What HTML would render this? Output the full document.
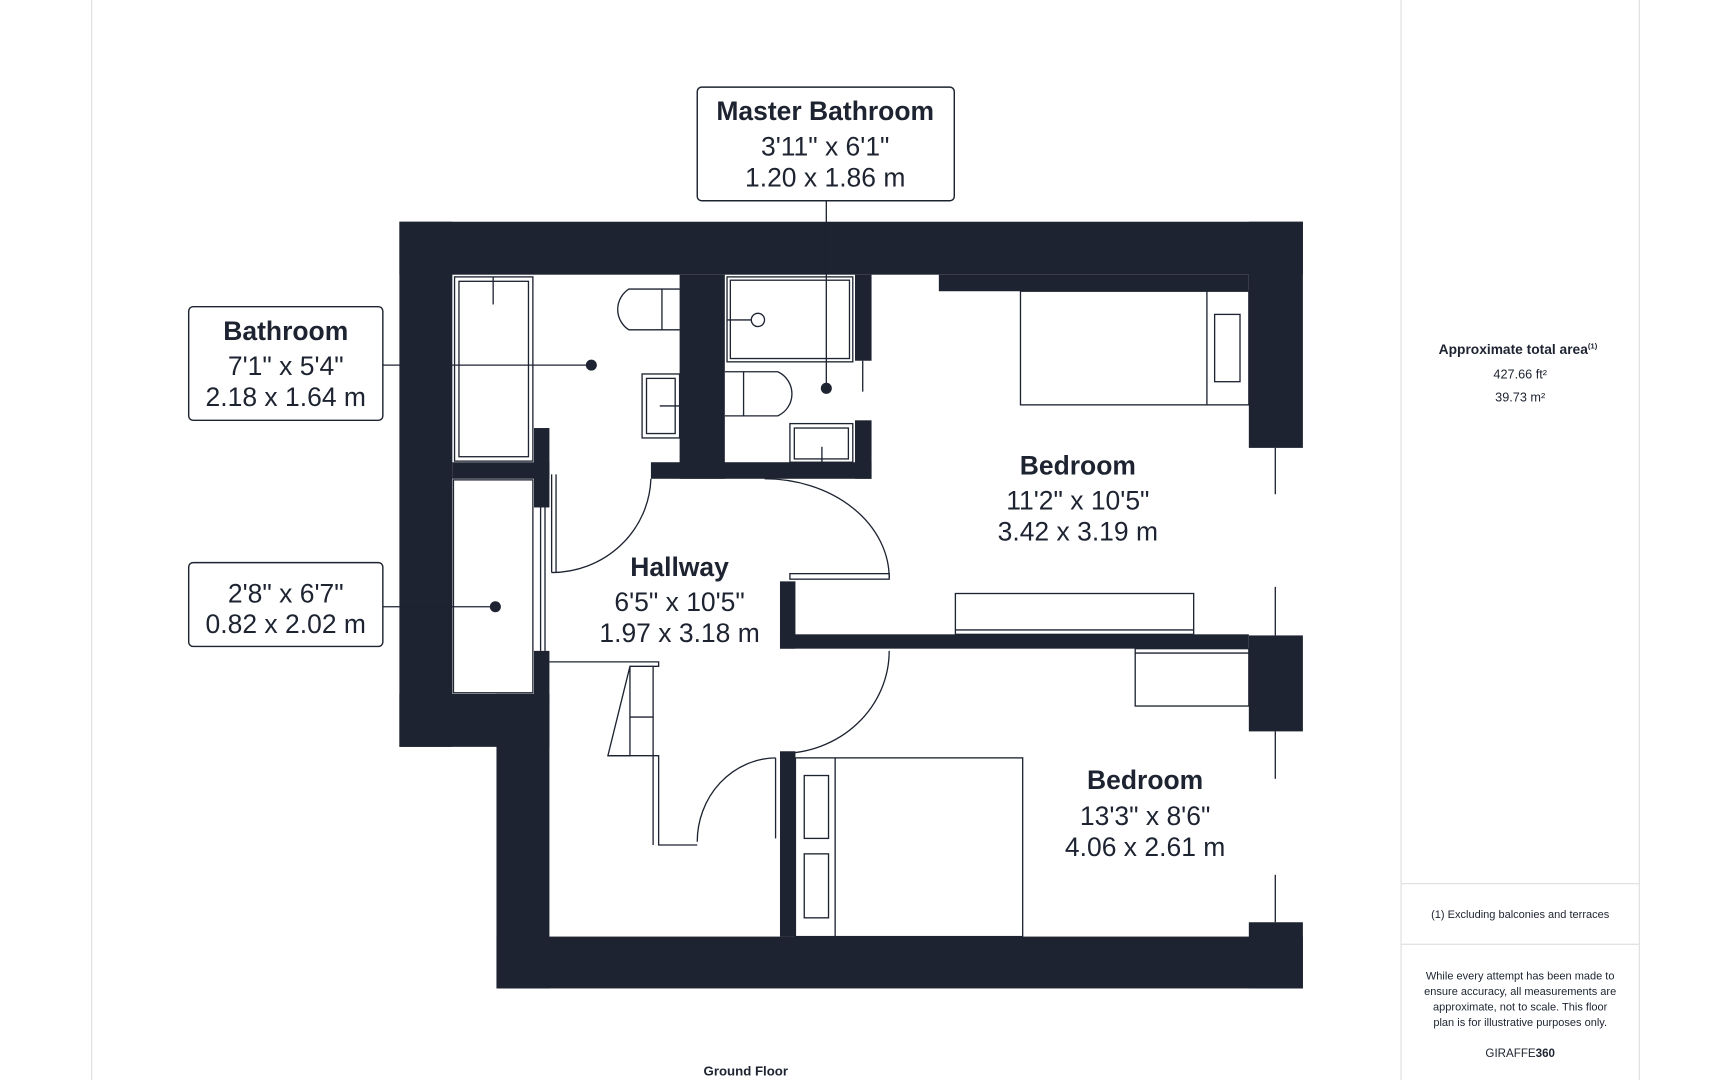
<!DOCTYPE html>
<html><head><meta charset="utf-8"><style>
html,body{margin:0;padding:0;background:#fff;width:1710px;height:1080px;overflow:hidden}
svg{display:block}
text{font-family:"Liberation Sans",sans-serif;fill:#1d2330}
</style></head><body>
<svg width="1710" height="1080" viewBox="0 0 1550 979" xmlns="http://www.w3.org/2000/svg">
<rect width="1550" height="979" fill="#fff"/>
<line x1="83" y1="0" x2="83" y2="979" stroke="#e2e2e2" stroke-width="1.2"/>
<line x1="1270" y1="0" x2="1270" y2="979" stroke="#e2e2e2" stroke-width="1.2"/>
<line x1="1486" y1="0" x2="1486" y2="979" stroke="#e2e2e2" stroke-width="1.2"/>
<line x1="1270" y1="801" x2="1486" y2="801" stroke="#e2e2e2" stroke-width="1.2"/>
<line x1="1270" y1="856" x2="1486" y2="856" stroke="#e2e2e2" stroke-width="1.2"/>

<g fill="#1d2330">
<rect x="362" y="201" width="819" height="48"/>
<rect x="851" y="249" width="281" height="15"/>
<rect x="1132" y="201" width="49" height="205"/>
<rect x="1132" y="576" width="49" height="87"/>
<rect x="1132" y="836" width="49" height="60"/>
<rect x="362" y="201" width="48" height="476"/>
<rect x="362" y="629" width="136" height="48"/>
<rect x="450" y="629" width="48" height="267"/>
<rect x="450" y="849" width="731" height="47"/>
<rect x="410" y="419" width="88" height="15"/>
<rect x="484" y="388" width="14" height="72"/>
<rect x="484" y="590" width="14" height="50"/>
<rect x="616" y="249" width="41" height="185"/>
<rect x="590" y="419" width="200" height="15"/>
<rect x="775" y="249" width="15" height="78"/>
<rect x="775" y="381" width="15" height="53"/>
<rect x="707" y="527" width="14" height="61"/>
<rect x="707" y="575" width="425" height="13"/>
<rect x="707" y="681" width="14" height="168"/>
</g>

<g fill="none" stroke="#1d2330" stroke-width="1.2">
<rect x="412" y="251" width="71" height="167"/>
<rect x="416" y="255" width="63" height="159"/>
<line x1="447" y1="251" x2="447" y2="276"/>
<path d="M616,262 H570 A22,22 0 0 0 570,299 H616"/>
<line x1="600" y1="262" x2="600" y2="299"/>
<rect x="582" y="339" width="34" height="58"/>
<rect x="586" y="343" width="26" height="50"/>
<line x1="598" y1="368" x2="616" y2="368"/>
<rect x="411" y="435" width="72" height="193"/>
<line x1="490" y1="434" x2="490" y2="590"/>
<line x1="494" y1="434" x2="494" y2="590"/>
<rect x="659" y="251" width="114" height="77"/>
<rect x="662" y="254" width="108" height="71"/>
<circle cx="687" cy="290" r="6"/>
<line x1="659" y1="290" x2="681" y2="290"/>
<path d="M657,337 H705 A22,22 0 0 1 705,377 H657"/>
<line x1="674" y1="337" x2="674" y2="377"/>
<rect x="716" y="384" width="57" height="35"/>
<rect x="720" y="388" width="49" height="28"/>
<line x1="745" y1="405" x2="745" y2="419"/>
<line x1="782" y1="327" x2="782" y2="355"/>
<rect x="925" y="264" width="207" height="103"/>
<line x1="1094" y1="264" x2="1094" y2="367"/>
<rect x="1101" y="285" width="23" height="61"/>
<rect x="866" y="538" width="216" height="37"/>
<line x1="866" y1="571" x2="1082" y2="571"/>
<rect x="1029" y="588" width="103" height="52"/>
<line x1="1029" y1="592" x2="1132" y2="592"/>
<rect x="721" y="687" width="206" height="162"/>
<line x1="757" y1="687" x2="757" y2="849"/>
<rect x="729" y="703" width="22" height="57"/>
<rect x="729" y="774" width="22" height="58"/>
<path d="M498,600 H597 V604 H571 V685 H551 L571,604"/>
<path d="M551,685 H597 V766 H632"/>
<line x1="592" y1="604" x2="592" y2="766"/>
<line x1="571" y1="650" x2="592" y2="650"/>
<line x1="500" y1="430" x2="500" y2="519"/>
<line x1="504" y1="430" x2="504" y2="519"/>
<path d="M590,434 A90,88 0 0 1 500,519"/>
<path d="M693,434 A113,90 0 0 1 806,524"/>
<rect x="716" y="520" width="90" height="5"/>
<path d="M806,590 A98,93 0 0 1 708,683"/>
<line x1="703" y1="687" x2="703" y2="760"/>
<path d="M703,687 A72,76 0 0 0 632,763"/>
<line x1="1156" y1="406" x2="1156" y2="448"/>
<line x1="1156" y1="532" x2="1156" y2="576"/>
<line x1="1156" y1="663" x2="1156" y2="706"/>
<line x1="1156" y1="793" x2="1156" y2="836"/>
</g>

<g stroke="#1d2330" stroke-width="1.2">
<line x1="749" y1="182" x2="749" y2="352"/>
<line x1="347" y1="331" x2="536" y2="331"/>
<line x1="347" y1="550" x2="449" y2="550"/>
</g>
<g fill="#1d2330">
<circle cx="749" cy="352" r="5"/>
<circle cx="536" cy="331" r="5"/>
<circle cx="449" cy="550" r="5"/>
</g>

<g fill="#fff" stroke="#1d2330" stroke-width="1.3">
<rect x="632" y="79" width="233" height="103" rx="4"/>
<rect x="171" y="278" width="176" height="103" rx="4"/>
<rect x="171" y="510" width="176" height="76" rx="4"/>
</g>
<g text-anchor="middle" font-size="24">
<text x="748" y="109" font-weight="bold">Master Bathroom</text>
<text x="748" y="141">3'11" x 6'1"</text>
<text x="748" y="169">1.20 x 1.86 m</text>
<text x="259" y="308" font-weight="bold">Bathroom</text>
<text x="259" y="340">7'1" x 5'4"</text>
<text x="259" y="368">2.18 x 1.64 m</text>
<text x="259" y="546">2'8" x 6'7"</text>
<text x="259" y="574">0.82 x 2.02 m</text>
<text x="977" y="430" font-weight="bold">Bedroom</text>
<text x="977" y="462">11'2" x 10'5"</text>
<text x="977" y="490">3.42 x 3.19 m</text>
<text x="616" y="522" font-weight="bold">Hallway</text>
<text x="616" y="554">6'5" x 10'5"</text>
<text x="616" y="582">1.97 x 3.18 m</text>
<text x="1038" y="715" font-weight="bold">Bedroom</text>
<text x="1038" y="748">13'3" x 8'6"</text>
<text x="1038" y="776">4.06 x 2.61 m</text>
</g>

<g text-anchor="middle">
<text x="1376" y="321" font-size="12.5" font-weight="bold">Approximate total area<tspan font-size="7" dy="-5">(1)</tspan></text>
<text x="1378" y="343" font-size="11.5" fill="#3a3f4a">427.66 ft²</text>
<text x="1378" y="364" font-size="11.5" fill="#3a3f4a">39.73 m²</text>
<text x="1378" y="832" font-size="10" fill="#3a3f4a">(1) Excluding balconies and terraces</text>
<text x="1378" y="888" font-size="10" fill="#3a3f4a">While every attempt has been made to</text>
<text x="1378" y="902" font-size="10" fill="#3a3f4a">ensure accuracy, all measurements are</text>
<text x="1378" y="916" font-size="10" fill="#3a3f4a">approximate, not to scale. This floor</text>
<text x="1378" y="930" font-size="10" fill="#3a3f4a">plan is for illustrative purposes only.</text>
<text x="1378" y="958" font-size="10.5">GIRAFFE<tspan font-weight="bold">360</tspan></text>
<text x="676" y="975" font-size="12" font-weight="bold">Ground Floor</text>
</g>
</svg>
</body></html>
